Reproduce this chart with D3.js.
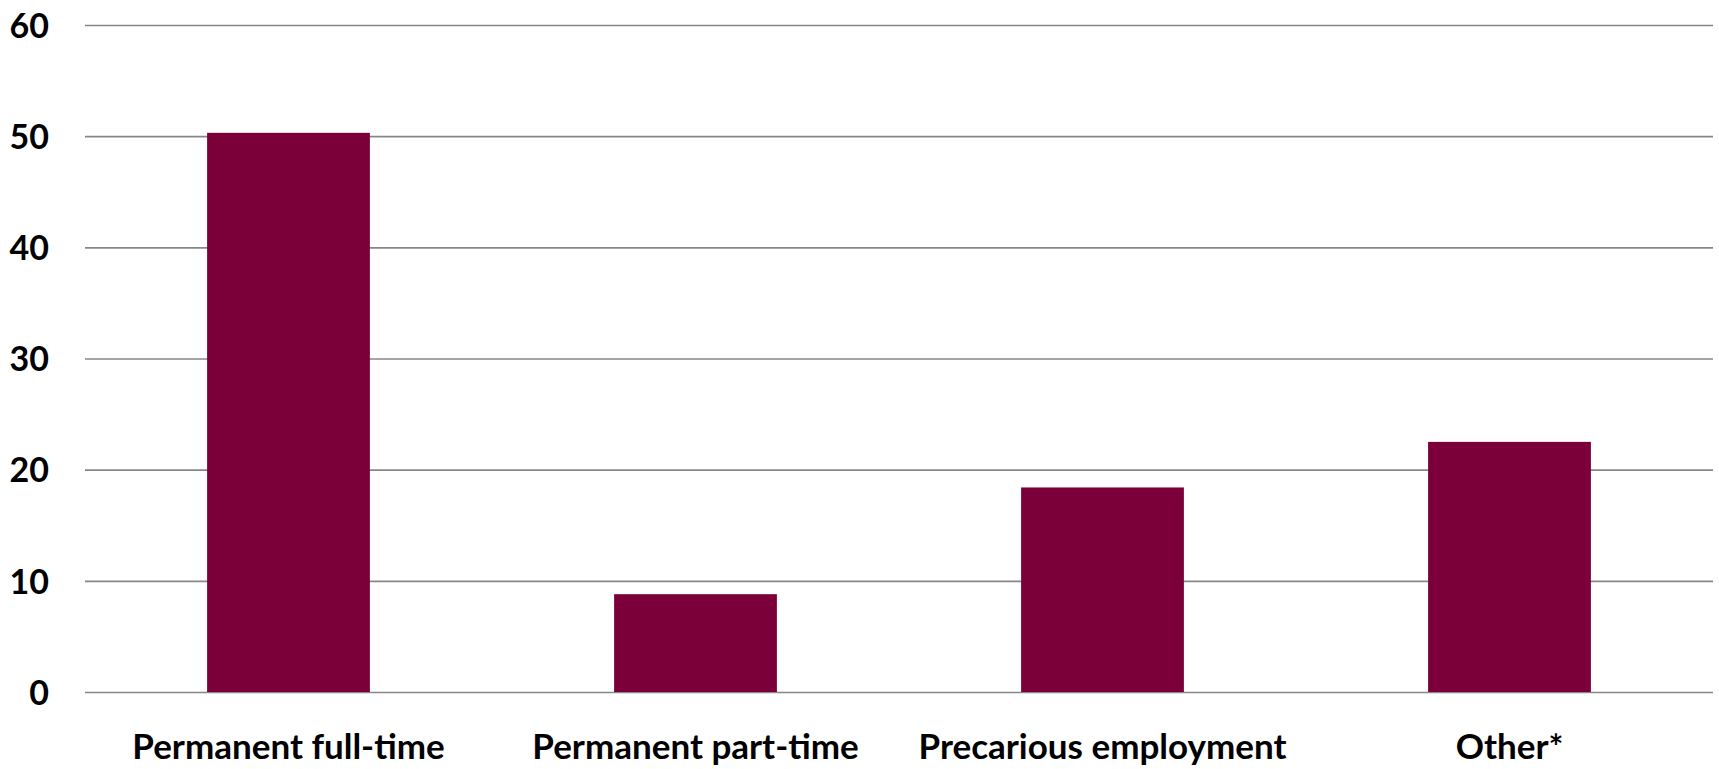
<!DOCTYPE html>
<html>
<head>
<meta charset="utf-8">
<script src="https://cdn.jsdelivr.net/npm/d3@7"></script>
<style>
  html, body { margin: 0; padding: 0; background: #fff; }
  svg { display: block; }
  text { font-family: Lato, "Open Sans", sans-serif; font-weight: 700; fill: #000; }
</style>
</head>
<body>
<svg id="chart" width="1719" height="769"></svg>
<script>
// Employment type shares (%)
const categories = ["Permanent full-time", "Permanent part-time", "Precarious employment", "Other*"];
const shares = [50.3, 8.8, 18.4, 22.5];
const yTicks = [0, 10, 20, 30, 40, 50, 60];

const width = 1719, height = 769;
const margin = { top: 25, right: 6, bottom: 77, left: 85 };
const innerW = width - margin.left - margin.right;
const innerH = height - margin.top - margin.bottom;

const svg = d3.select("#chart");
const g = svg.append("g").attr("transform", `translate(${margin.left},${margin.top})`);

const x = d3.scaleBand()
  .domain(categories)
  .range([0, innerW])
  .paddingInner(0.6)
  .paddingOuter(0.3);

const y = d3.scaleLinear()
  .domain([0, 60])
  .range([innerH, 0]);

// Horizontal gridlines with the tick labels on the left
const yAxis = g.append("g")
  .call(d3.axisLeft(y).tickValues(yTicks).tickSize(-innerW).tickPadding(36).tickFormat(d3.format("d")));
yAxis.select(".domain").remove();
yAxis.selectAll(".tick line").attr("stroke", "#878787").attr("stroke-width", 1.6);
yAxis.selectAll(".tick text")
  .style("font-size", "34px")
  .attr("dy", "0.36em");

// Bars
g.append("g").selectAll("rect")
  .data(categories.map((c, i) => ({ c, v: shares[i] })))
  .join("rect")
  .attr("x", d => x(d.c))
  .attr("width", x.bandwidth())
  .attr("y", d => y(d.v))
  .attr("height", d => y(0) - y(d.v))
  .attr("fill", "#7b0039");

// Category labels
const xAxis = g.append("g")
  .attr("transform", `translate(0,${innerH})`)
  .call(d3.axisBottom(x).tickSize(0).tickPadding(42));
xAxis.select(".domain").remove();
xAxis.selectAll(".tick text")
  .style("font-size", "35px");
</script>
</body>
</html>
